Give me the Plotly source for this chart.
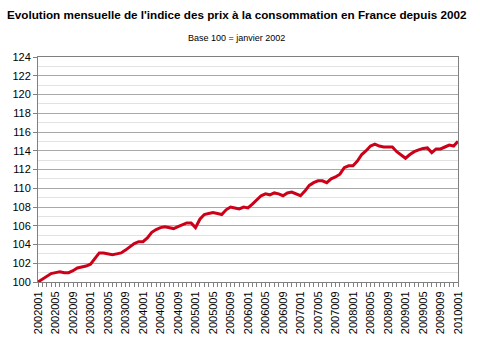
import plotly.graph_objects as go

months = [(y, m) for y in range(2002, 2010) for m in range(1, 13)] + [(2010, 1)]
labels = [f"{y}0{m:02d}" for y, m in months]

values = [
    100.0, 100.3, 100.6, 100.9, 101.0, 101.1, 101.0, 101.0, 101.2, 101.5, 101.6, 101.7,
    101.9, 102.5, 103.1, 103.1, 103.0, 102.9, 103.0, 103.1, 103.4, 103.8, 104.1, 104.3,
    104.3, 104.7, 105.3, 105.6, 105.8, 105.9, 105.8, 105.7, 105.9, 106.1, 106.3, 106.3,
    105.8, 106.7, 107.2, 107.3, 107.4, 107.3, 107.2, 107.7, 108.0, 107.9, 107.8, 108.0,
    107.9, 108.3, 108.8, 109.2, 109.4, 109.3, 109.5, 109.4, 109.2, 109.5, 109.6, 109.4,
    109.2, 109.7, 110.3, 110.6, 110.8, 110.8, 110.6, 111.0, 111.2, 111.5, 112.2, 112.4,
    112.4, 112.9, 113.6, 114.0, 114.5, 114.7, 114.5, 114.4, 114.4, 114.4, 113.9, 113.5,
    113.2, 113.6, 113.9, 114.1, 114.25, 114.3, 113.8, 114.2, 114.2, 114.4, 114.6, 114.5,
    115.0,
]

title = "Evolution mensuelle de l'indice des prix à la consommation en France depuis 2002"
subtitle = "Base 100 = janvier 2002"

x_idx = list(range(len(labels)))
tick_idx = x_idx[::4]
tick_text = [labels[i] for i in tick_idx]

fig = go.Figure()
fig.add_trace(go.Scatter(
    x=x_idx, y=values, mode="lines",
    line=dict(color="#CC0018", width=3),
    hoverinfo="skip",
))

fig.update_layout(
    width=480, height=346,
    margin=dict(l=37, r=22, t=57, b=58),
    paper_bgcolor="white", plot_bgcolor="white",
    showlegend=False,
    font=dict(family="Liberation Sans, Arial", size=11, color="#000000"),
    annotations=[
        dict(text=f"<b>{title}</b>", x=(236 - 37) / 421, xref="paper", xanchor="center",
             y=(288 - 13) / 231, yref="paper", yanchor="middle",
             showarrow=False, font=dict(size=11.7, family="Liberation Sans, Arial", color="#000")),
        dict(text=subtitle, x=(236 - 37) / 421, xref="paper", xanchor="center",
             y=(288 - 38) / 231, yref="paper", yanchor="middle",
             showarrow=False, font=dict(size=9, family="Liberation Sans, Arial", color="#000")),
    ],
)

fig.update_xaxes(
    range=[0, 96], tickmode="array", tickvals=tick_idx, ticktext=tick_text,
    tickangle=-90, ticks="outside", ticklen=4, tickcolor="#808080",
    showgrid=False, zeroline=False,
    showline=True, linecolor="#808080", linewidth=1, mirror=True,
    minor=dict(ticks="outside", dtick=1, tick0=0, ticklen=4, tickcolor="#808080", showgrid=False),
    tickfont=dict(size=11),
)
fig.update_yaxes(
    range=[100, 124], dtick=2, tick0=100, ticks="outside", ticklen=4, tickcolor="#808080",
    showgrid=True, gridcolor="#A8A8A8", gridwidth=1, zeroline=False,
    showline=True, linecolor="#808080", linewidth=1, mirror=True,
    minor=dict(dtick=1, tick0=100, showgrid=True, gridcolor="#E2E2E2", gridwidth=1),
    tickfont=dict(size=11),
)

fig.write_html("out.html")
